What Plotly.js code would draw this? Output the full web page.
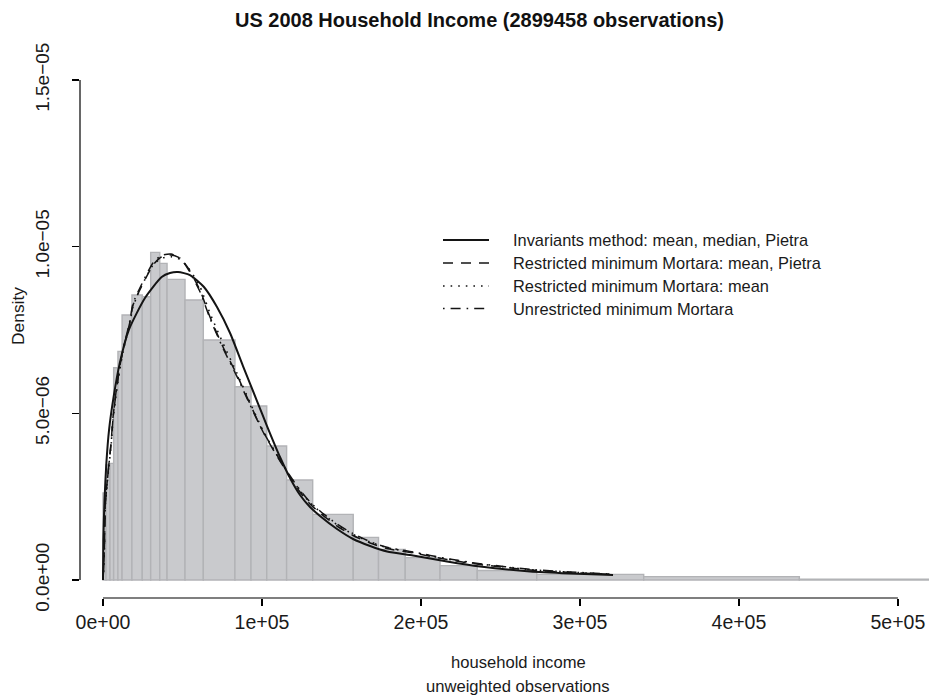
<!DOCTYPE html>
<html>
<head>
<meta charset="utf-8">
<script src="https://cdn.plot.ly/plotly-3.0.1.min.js"></script>
<style>html,body{margin:0;padding:0;background:#fff;}#chart{width:929px;height:699px;}</style>
</head>
<body>
<div id="chart"></div>
<script>
// ---- Data ----
// Histogram bin edges (household income) and density per bin
var binEdges = [0, 1900, 4400, 6700, 9400, 12000, 18200, 24700, 30000, 35700, 40300, 51600, 63100, 83000, 93100, 103000, 115500, 131900, 157400, 173300, 190100, 212000, 235400, 272800, 340100, 438000, 640000];
var binDensity = [2.61e-6, 3.45e-6, 3.5e-6, 6.37e-6, 6.86e-6, 7.95e-6, 8.55e-6, 8.5e-6, 9.83e-6, 9.5e-6, 9.02e-6, 8.4e-6, 7.2e-6, 5.8e-6, 5.22e-6, 4.02e-6, 3.0e-6, 1.97e-6, 1.28e-6, 0.92e-6, 0.67e-6, 0.43e-6, 0.285e-6, 0.17e-6, 0.1e-6, 0.022e-6];

// Fitted density curves
var invX = [0, 200, 950, 2100, 3800, 6700, 10500, 16200, 26400, 36900, 42100, 47200, 54700, 63500, 71700, 79900, 88060, 96870, 103160, 111330, 117620, 123910, 130200, 136500, 147200, 157300, 168000, 178700, 195000, 216400, 237200, 268600, 293700, 320800];
var invY = [0, 1.2e-6, 2.4e-6, 3.5e-6, 4.5e-6, 5.5e-6, 6.5e-6, 7.5e-6, 8.46e-6, 9.09e-6, 9.21e-6, 9.24e-6, 9.15e-6, 8.79e-6, 8.19e-6, 7.41e-6, 6.42e-6, 5.37e-6, 4.62e-6, 3.69e-6, 3.06e-6, 2.55e-6, 2.19e-6, 1.92e-6, 1.53e-6, 1.23e-6, 1.02e-6, 0.855e-6, 0.735e-6, 0.555e-6, 0.405e-6, 0.255e-6, 0.195e-6, 0.15e-6];

var resX = [0, 630, 1070, 1450, 3150, 5220, 6290, 8370, 10500, 12600, 16800, 18900, 24100, 31500, 36700, 42800, 48400, 53500, 61000, 67300, 75500, 84300, 92500, 100700, 109400, 117600, 123900, 130200, 136500, 147200, 157300, 168000, 178600, 195000, 216400, 237100, 268600, 293700, 320800];
var resMPY = [0, 0.6e-6, 1.5e-6, 2.31e-6, 3.21e-6, 4.2e-6, 4.89e-6, 5.7e-6, 6.39e-6, 6.9e-6, 7.71e-6, 8.25e-6, 8.79e-6, 9.45e-6, 9.69e-6, 9.75e-6, 9.66e-6, 9.36e-6, 8.7e-6, 7.89e-6, 6.99e-6, 6.15e-6, 5.28e-6, 4.44e-6, 3.72e-6, 3.09e-6, 2.64e-6, 2.28e-6, 2.01e-6, 1.62e-6, 1.335e-6, 1.11e-6, 0.945e-6, 0.81e-6, 0.615e-6, 0.465e-6, 0.3e-6, 0.225e-6, 0.165e-6];
var resMY = [0, 0.5e-6, 1.4e-6, 2.2e-6, 3.15e-6, 4.1e-6, 4.8e-6, 5.6e-6, 6.3e-6, 6.85e-6, 7.7e-6, 8.2e-6, 8.8e-6, 9.45e-6, 9.65e-6, 9.7e-6, 9.62e-6, 9.38e-6, 8.8e-6, 8.0e-6, 7.1e-6, 6.2e-6, 5.32e-6, 4.48e-6, 3.75e-6, 3.12e-6, 2.68e-6, 2.32e-6, 2.05e-6, 1.66e-6, 1.37e-6, 1.14e-6, 0.97e-6, 0.83e-6, 0.63e-6, 0.48e-6, 0.31e-6, 0.235e-6, 0.17e-6];
var unrY = [0, 0.55e-6, 1.45e-6, 2.25e-6, 3.2e-6, 4.15e-6, 4.85e-6, 5.68e-6, 6.38e-6, 6.92e-6, 7.75e-6, 8.3e-6, 8.85e-6, 9.52e-6, 9.74e-6, 9.78e-6, 9.66e-6, 9.33e-6, 8.65e-6, 7.85e-6, 6.95e-6, 6.1e-6, 5.25e-6, 4.45e-6, 3.75e-6, 3.13e-6, 2.7e-6, 2.34e-6, 2.07e-6, 1.68e-6, 1.39e-6, 1.15e-6, 0.98e-6, 0.84e-6, 0.64e-6, 0.49e-6, 0.32e-6, 0.24e-6, 0.18e-6];

var seriesNames = ["Invariants method: mean, median, Pietra", "Restricted minimum Mortara: mean, Pietra", "Restricted minimum Mortara: mean", "Unrestricted minimum Mortara"];

var xTickVals = [0, 100000, 200000, 300000, 400000, 500000];
var xTickText = ["0e+00", "1e+05", "2e+05", "3e+05", "4e+05", "5e+05"];
var yTickVals = [0, 5e-6, 1e-5, 1.5e-5];
var yTickText = ["0.0e+00", "5.0e\u221206", "1.0e\u221205", "1.5e\u221205"];

// ---- Build traces ----
var centers = [], widths = [];
for (var i = 0; i < binDensity.length; i++) {
  centers.push((binEdges[i] + binEdges[i + 1]) / 2);
  widths.push(binEdges[i + 1] - binEdges[i]);
}
var FONT = "Liberation Sans, Arial, Helvetica, sans-serif";
var ink = "#141414";
var dashes = ["solid", "10px,8px", "1.6px,6px", "1.6px,6px,10px,6px"];
var lw = [2, 1.5, 1.6, 1.5];

var traces = [{
  type: "bar", x: centers, y: binDensity, width: widths,
  marker: {color: "#c9cacd", line: {color: "#b2b3b6", width: 1.4}},
  showlegend: false, hoverinfo: "skip"
}];
var curveX = [invX, resX, resX, resX];
var curveY = [invY, resMPY, resMY, unrY];
for (var k = 0; k < 4; k++) {
  traces.push({
    type: "scatter", mode: "lines", x: curveX[k], y: curveY[k], name: seriesNames[k],
    line: {color: ink, width: lw[k], dash: dashes[k], shape: "spline", smoothing: 0.6},
    showlegend: false
  });
}

// ---- Layout ----
var W = 929, H = 699, mL = 80, mR = 0, mT = 60, mB = 101;
var pw = W - mL - mR, ph = H - mT - mB;
function px2paperX(px) { return (px - mL) / pw; }
function px2paperY(py) { return (H - mB - py) / ph; }

var shapes = [
  {type: "line", xref: "x", yref: "paper", x0: xTickVals[0], x1: xTickVals[xTickVals.length - 1], y0: 0, y1: 0, line: {color: "#000", width: 1.2}},
  {type: "line", xref: "paper", yref: "y", x0: 0, x1: 0, y0: yTickVals[0], y1: yTickVals[yTickVals.length - 1], line: {color: "#000", width: 1.2}}
];
var annotations = [];
var legRows = [240, 263, 286, 308.5];
for (var k = 0; k < 4; k++) {
  shapes.push({type: "line", xref: "paper", yref: "paper",
    x0: px2paperX(443), x1: px2paperX(489), y0: px2paperY(legRows[k]), y1: px2paperY(legRows[k]),
    line: {color: ink, width: lw[k], dash: dashes[k]}});
  annotations.push({xref: "paper", yref: "paper", x: px2paperX(511), y: px2paperY(legRows[k]),
    xanchor: "left", yanchor: "middle", showarrow: false, text: seriesNames[k],
    font: {family: FONT, size: 16.4, color: "#1a1a1a"}});
}
annotations.push({xref: "paper", yref: "paper", x: px2paperX(518), y: px2paperY(663), xanchor: "center", yanchor: "middle",
  showarrow: false, text: "household income", font: {family: FONT, size: 16.6, color: "#1a1a1a"}});
annotations.push({xref: "paper", yref: "paper", x: px2paperX(518), y: px2paperY(686), xanchor: "center", yanchor: "middle",
  showarrow: false, text: "unweighted observations", font: {family: FONT, size: 16.6, color: "#1a1a1a"}});
annotations.push({xref: "paper", yref: "paper", x: px2paperX(18), y: px2paperY(316), xanchor: "center", yanchor: "middle",
  showarrow: false, textangle: -90, text: "Density", font: {family: FONT, size: 17.4, color: "#1a1a1a"}});

var layout = {
  width: W, height: H,
  margin: {l: mL, r: mR, t: mT, b: mB, pad: 0},
  paper_bgcolor: "#fff", plot_bgcolor: "#fff",
  showlegend: false,
  title: {text: "<b>US 2008 Household Income (2899458 observations)</b>", x: px2paperX(479.5), xref: "paper", xanchor: "center",
    y: 1 - 19.5 / H, yref: "container", yanchor: "middle", font: {family: FONT, size: 20, color: "#111"}},
  xaxis: {
    range: [(mL - 103) * 629, (W - 103) * 629],
    tickmode: "array", tickvals: xTickVals, ticktext: xTickText,
    ticks: "outside", ticklen: 7, tickwidth: 1.2, tickcolor: "#000",
    showline: false, zeroline: false, showgrid: false,
    tickfont: {family: FONT, size: 19.5, color: "#1a1a1a"}
  },
  yaxis: {
    range: [(580 - 598) / 33.33e6, (580 - 60) / 33.33e6],
    tickmode: "array", tickvals: yTickVals, ticktext: yTickText,
    ticks: "outside", ticklen: 7, tickwidth: 1.2, tickcolor: "#000", tickangle: -90,
    ticklabelstandoff: 15,
    showline: false, zeroline: false, showgrid: false,
    tickfont: {family: FONT, size: 19, color: "#1a1a1a"}
  },
  shapes: shapes,
  annotations: annotations
};

Plotly.newPlot("chart", traces, layout, {displayModeBar: false, staticPlot: true});
</script>
</body>
</html>
